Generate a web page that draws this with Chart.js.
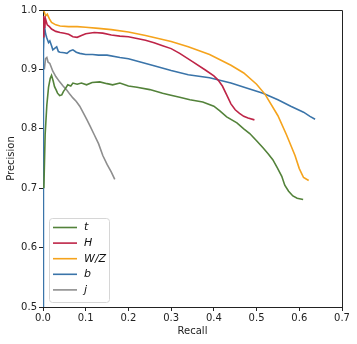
<!DOCTYPE html>
<html>
<head>
<meta charset="utf-8">
<script src="https://cdn.jsdelivr.net/npm/chart.js@4/dist/chart.umd.min.js"></script>
<style>
  body { margin: 0; background: #fff; }
</style>
</head>
<body>
<canvas id="pr_chart" width="357" height="344"></canvas>
<script>
// Precision / recall curves

const labels = ["t", "H", "W/Z", "b", "j"];

const recall_t = [0.002, 0.005, 0.009, 0.013, 0.017, 0.02, 0.024, 0.027, 0.031, 0.034, 0.039, 0.044, 0.048, 0.051, 0.058, 0.065, 0.07, 0.08, 0.09, 0.102, 0.115, 0.133, 0.15, 0.163, 0.18, 0.2, 0.22, 0.25, 0.28, 0.297, 0.32, 0.344, 0.374, 0.4, 0.414, 0.43, 0.454, 0.47, 0.484, 0.5, 0.515, 0.527, 0.538, 0.548, 0.559, 0.566, 0.575, 0.585, 0.595, 0.609];
const prec_t = [0.7, 0.79, 0.84, 0.87, 0.885, 0.89, 0.88, 0.871, 0.865, 0.86, 0.856, 0.857, 0.863, 0.866, 0.874, 0.872, 0.877, 0.875, 0.877, 0.874, 0.878, 0.879, 0.876, 0.874, 0.877, 0.872, 0.87, 0.866, 0.86, 0.857, 0.853, 0.849, 0.845, 0.838, 0.83, 0.82, 0.81, 0.8, 0.792, 0.78, 0.768, 0.758, 0.748, 0.735, 0.72, 0.705, 0.695, 0.687, 0.683, 0.681];

const recall_H = [0, 0.002, 0.004, 0.006, 0.01, 0.015, 0.02, 0.03, 0.04, 0.05, 0.06, 0.07, 0.08, 0.09, 0.1, 0.12, 0.14, 0.16, 0.18, 0.2, 0.22, 0.24, 0.26, 0.28, 0.3, 0.32, 0.35, 0.38, 0.4, 0.41, 0.42, 0.43, 0.44, 0.45, 0.46, 0.47, 0.48, 0.495];
const prec_H = [0.955, 0.99, 0.97, 0.985, 0.975, 0.972, 0.968, 0.964, 0.962, 0.961, 0.959, 0.955, 0.954, 0.957, 0.96, 0.962, 0.961, 0.958, 0.956, 0.955, 0.952, 0.949, 0.945, 0.94, 0.935, 0.927, 0.913, 0.899, 0.889, 0.882, 0.872, 0.857, 0.842, 0.832, 0.826, 0.821, 0.818, 0.815];

const recall_WZ = [0, 0.003, 0.006, 0.01, 0.015, 0.02, 0.03, 0.04, 0.06, 0.08, 0.1, 0.13, 0.16, 0.2, 0.24, 0.27, 0.3, 0.34, 0.39, 0.44, 0.47, 0.5, 0.52, 0.55, 0.57, 0.59, 0.6, 0.61, 0.622];
const prec_WZ = [1.0, 0.997, 0.99, 0.993, 0.985, 0.979, 0.975, 0.973, 0.972, 0.972, 0.971, 0.969, 0.967, 0.963, 0.957, 0.952, 0.947, 0.938, 0.925, 0.907, 0.894, 0.875, 0.858, 0.822, 0.79, 0.755, 0.733, 0.718, 0.713];

const recall_b = [0, 0.001, 0.003, 0.006, 0.009, 0.013, 0.016, 0.02, 0.023, 0.028, 0.032, 0.036, 0.04, 0.05, 0.056, 0.063, 0.07, 0.078, 0.086, 0.1, 0.116, 0.13, 0.15, 0.18, 0.2, 0.23, 0.26, 0.3, 0.34, 0.39, 0.44, 0.48, 0.515, 0.55, 0.58, 0.61, 0.625, 0.637];
const prec_b = [0.5, 0.93, 0.975, 0.96, 0.953, 0.945, 0.948, 0.94, 0.933, 0.936, 0.938, 0.93, 0.929, 0.928, 0.927, 0.931, 0.933, 0.929, 0.927, 0.925, 0.925, 0.924, 0.924, 0.92, 0.918, 0.912, 0.906, 0.898, 0.891, 0.886, 0.877, 0.868, 0.86, 0.849, 0.838, 0.828, 0.821, 0.816];

const recall_j = [0.003, 0.006, 0.009, 0.012, 0.016, 0.023, 0.03, 0.039, 0.047, 0.056, 0.063, 0.07, 0.078, 0.086, 0.095, 0.103, 0.11, 0.12, 0.13, 0.14, 0.15, 0.16, 0.168];
const prec_j = [0.9, 0.918, 0.92, 0.912, 0.91, 0.897, 0.888, 0.879, 0.872, 0.865, 0.858, 0.852, 0.846, 0.838, 0.826, 0.815, 0.805, 0.79, 0.775, 0.755, 0.74, 0.727, 0.715];

const xTicks = [0, 0.1, 0.2, 0.3, 0.4, 0.5, 0.6, 0.7];
const yTicks = [0.5, 0.6, 0.7, 0.8, 0.9, 1.0];

const colors = ["#53823a", "#be2447", "#f5a31c", "#3a74a9", "#8e8e8e"];

const series = [
    [recall_t, prec_t],
    [recall_H, prec_H],
    [recall_WZ, prec_WZ],
    [recall_b, prec_b],
    [recall_j, prec_j]
];

const datasets = series.map((s, i) => ({
    label: labels[i],
    data: s[0].map((x, k) => ({ x: x, y: s[1][k] })),
    borderColor: colors[i],
    backgroundColor: colors[i],
    borderWidth: 1.6,
    pointRadius: 0,
    fill: false,
    tension: 0
}));

const font = "'DejaVu Sans', sans-serif";
const axisColor = "#222";

// top and right edges of the axes box
const frame = {
    id: "frame",
    afterDraw(chart) {
        const a = chart.chartArea;
        const ctx = chart.ctx;
        ctx.save();
        ctx.strokeStyle = axisColor;
        ctx.lineWidth = 1;
        ctx.beginPath();
        ctx.moveTo(a.left, a.top + 0.5);
        ctx.lineTo(a.right + 0.5, a.top + 0.5);
        ctx.lineTo(a.right + 0.5, a.bottom);
        ctx.stroke();
        ctx.restore();
    }
};

// legend box in the lower left corner of the plot
const insideLegend = {
    id: "insideLegend",
    afterDraw(chart) {
        const a = chart.chartArea;
        const ctx = chart.ctx;
        const x0 = a.left + 6, y0 = a.bottom - 89;
        const w = 60, h = 84, row = 15.6;
        ctx.save();
        ctx.fillStyle = "rgba(255,255,255,0.8)";
        ctx.strokeStyle = "#d6d6d6";
        ctx.lineWidth = 1;
        ctx.beginPath();
        ctx.roundRect(x0 + 0.5, y0 + 0.5, w, h, 3);
        ctx.fill();
        ctx.stroke();
        ctx.font = "italic 11px " + font;
        ctx.textBaseline = "middle";
        chart.data.datasets.forEach((ds, i) => {
            const y = y0 + 9.5 + i * row;
            ctx.strokeStyle = ds.borderColor;
            ctx.lineWidth = 1.6;
            ctx.beginPath();
            ctx.moveTo(x0 + 4, y);
            ctx.lineTo(x0 + 28, y);
            ctx.stroke();
            ctx.fillStyle = "#111";
            ctx.fillText(ds.label, x0 + 35, y);
        });
        ctx.restore();
    }
};

const pr_ctx = document.getElementById("pr_chart").getContext("2d");
const pr_chart = new Chart(pr_ctx, {
    type: "line",
    data: { datasets: datasets },
    plugins: [frame, insideLegend],
    options: {
        responsive: false,
        animation: false,
        layout: { padding: { top: 10, right: 15, left: 0, bottom: 0 } },
        plugins: {
            legend: { display: false },
            tooltip: { enabled: false }
        },
        scales: {
            x: {
                type: "linear",
                min: 0,
                max: 0.7,
                afterBuildTicks: scale => { scale.ticks = xTicks.map(v => ({ value: v })); },
                afterFit: scale => { scale.height = 37; },
                ticks: {
                    callback: v => v.toFixed(1),
                    font: { family: font, size: 10 },
                    color: axisColor,
                    padding: 1,
                    maxRotation: 0
                },
                grid: { drawOnChartArea: false, tickLength: 4, color: axisColor },
                border: { color: axisColor },
                title: {
                    display: true,
                    text: "Recall",
                    font: { family: font, size: 10 },
                    color: axisColor,
                    padding: { top: 2, bottom: 7 }
                }
            },
            y: {
                min: 0.5,
                max: 1.0,
                afterBuildTicks: scale => { scale.ticks = yTicks.map(v => ({ value: v })); },
                afterFit: scale => { scale.width = 43; },
                ticks: {
                    callback: v => v.toFixed(1),
                    font: { family: font, size: 10 },
                    color: axisColor,
                    padding: 2
                },
                grid: { drawOnChartArea: false, tickLength: 4, color: axisColor },
                border: { color: axisColor },
                title: {
                    display: true,
                    text: "Precision",
                    font: { family: font, size: 10 },
                    color: axisColor,
                    padding: { top: 5, bottom: 2 }
                }
            }
        }
    }
});
</script>
</body>
</html>
